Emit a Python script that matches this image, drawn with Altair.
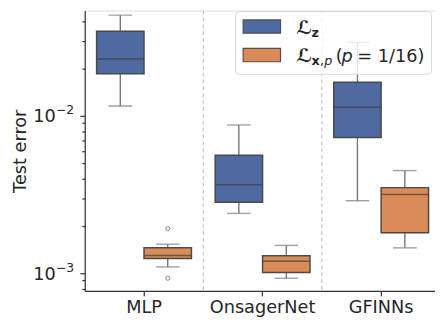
import altair as alt
import pandas as pd

categories = ["MLP", "OnsagerNet", "GFINNs"]
series = ["Lz", "Lxp"]
colors = ["#4f6aa1", "#da8b57"]

# Box statistics (per category)
lz_whislo = [0.01155, 0.00240, 0.00289]
lz_q1 = [0.0185, 0.00283, 0.00729]
lz_med = [0.0230, 0.00365, 0.01133]
lz_q3 = [0.0345, 0.00562, 0.01637]
lz_whishi = [0.0436, 0.00875, 0.0293]

lxp_whislo = [0.001097, 0.00093, 0.00145]
lxp_q1 = [0.00124, 0.00101, 0.00181]
lxp_med = [0.001296, 0.001194, 0.00316]
lxp_q3 = [0.001454, 0.00129, 0.00350]
lxp_whishi = [0.00153, 0.001503, 0.00449]

outlier_cat = ["MLP", "MLP"]
outlier_series = ["Lxp", "Lxp"]
outlier_val = [0.00192, 0.00093]

ytick_values = [0.0008, 0.0009, 0.001, 0.002, 0.003, 0.004, 0.005, 0.006,
                0.007, 0.008, 0.009, 0.01, 0.02, 0.03, 0.04, 0.05]
major_vals = [0.01, 0.001]
major_base = ["10", "10"]
major_exp = ["−2", "−3"]
y_domain = [0.000772, 0.04664]
separators = ["OnsagerNet", "GFINNs"]

rows = []
for i, c in enumerate(categories):
    rows.append(dict(cat=c, series="Lz", whislo=lz_whislo[i], q1=lz_q1[i], med=lz_med[i],
                     q3=lz_q3[i], whishi=lz_whishi[i]))
    rows.append(dict(cat=c, series="Lxp", whislo=lxp_whislo[i], q1=lxp_q1[i], med=lxp_med[i],
                     q3=lxp_q3[i], whishi=lxp_whishi[i]))
df = pd.DataFrame(rows)
df_out = pd.DataFrame(dict(cat=outlier_cat, series=outlier_series, val=outlier_val))
df_sep = pd.DataFrame(dict(cat=separators))
df_lab = pd.DataFrame(dict(v=major_vals, base=major_base, exp=major_exp))
df_one = pd.DataFrame(dict(k=[0]))

FONT = "DejaVu Sans"
TXT = "#262626"

xscale = alt.Scale(domain=categories, range=[0, 361.5], paddingInner=0, paddingOuter=0)
xaxis = alt.Axis(labelFont=FONT, labelFontSize=18, labelColor=TXT, labelAngle=0,
                 tickSize=5, tickColor="#333333", tickWidth=1.2, domainColor="#333333",
                 domainWidth=1.2, labelPadding=3, title=None, grid=False)
yscale = alt.Scale(type="log", domain=y_domain, nice=False, zero=False)
major_test = "datum.value == 0.01 || datum.value == 0.001"
yaxis = alt.Axis(values=ytick_values, labels=False,
                 tickSize={"condition": {"test": major_test, "value": 5}, "value": 3},
                 tickColor="#333333", tickWidth=1.2, domainColor="#333333", domainWidth=1.2,
                 grid=False,
                 titleFont=FONT, titleFontSize=18, titleFontWeight="normal", titleColor=TXT,
                 titlePadding=51)
xoff = alt.XOffset("series:N", sort=series,
                   scale=alt.Scale(domain=series, paddingInner=0, paddingOuter=0.25))
color = alt.Color("series:N", scale=alt.Scale(domain=series, range=colors), legend=None)


def X(**kw):
    return alt.X("cat:N", scale=xscale, axis=xaxis, sort=categories, title=None, **kw)


def Y(field):
    return alt.Y(f"{field}:Q", scale=yscale, axis=yaxis, title="Test error")


seps = alt.Chart(df_sep).mark_rule(color="#bbbbbb", strokeDash=[4, 3], strokeWidth=1).encode(
    x=X(bandPosition=0))

base = alt.Chart(df)
wlo = base.mark_rule(color="#777777", strokeWidth=1.4).encode(
    x=X(), xOffset=xoff, y=Y("whislo"), y2="q1:Q")
whi = base.mark_rule(color="#777777", strokeWidth=1.4).encode(
    x=X(), xOffset=xoff, y=Y("q3"), y2="whishi:Q")
cap_lo = base.mark_tick(orient="horizontal", size=24, thickness=1.4, color="#777777").encode(
    x=X(), xOffset=xoff, y=Y("whislo"))
cap_hi = base.mark_tick(orient="horizontal", size=24, thickness=1.4, color="#777777").encode(
    x=X(), xOffset=xoff, y=Y("whishi"))
box = base.mark_bar(stroke="#4a4a4a", strokeWidth=1.5, opacity=1).encode(
    x=X(), xOffset=xoff, y=Y("q1"), y2="q3:Q", color=color)
med = base.mark_tick(orient="horizontal", size=48, thickness=1.5, color="#404040").encode(
    x=X(), xOffset=xoff, y=Y("med"))
outl = alt.Chart(df_out).mark_point(shape="circle", filled=False, size=18, color="#555555",
                                    strokeWidth=1).encode(
    x=X(), xOffset=xoff, y=Y("val"))

# y tick labels 10^-2, 10^-3 placed through the y scale
lab_base = alt.Chart(df_lab).mark_text(font=FONT, fontSize=18, color=TXT, align="right",
                                       baseline="alphabetic", dy=6.7).encode(
    x=alt.value(-29.5), y=Y("v"), text="base:N")
lab_exp = alt.Chart(df_lab).mark_text(font=FONT, fontSize=12.5, color=TXT, align="left",
                                      baseline="alphabetic", dy=-1.6).encode(
    x=alt.value(-29.2), y=Y("v"), text="exp:N")

# Legend (drawn in plot pixel space)
one = alt.Chart(df_one)
leg_frame = one.mark_rect(fill="white", fillOpacity=0.8, stroke="#d6d6d6", strokeWidth=1,
                          cornerRadius=4).encode(
    x=alt.value(153.5), x2=alt.value(352.5), y=alt.value(1), y2=alt.value(64.7))
sw1 = one.mark_rect(fill=colors[0], stroke="#505050", strokeWidth=1.2).encode(
    x=alt.value(161), x2=alt.value(199), y=alt.value(9.5), y2=alt.value(23))
sw2 = one.mark_rect(fill=colors[1], stroke="#505050", strokeWidth=1.2).encode(
    x=alt.value(161), x2=alt.value(199), y=alt.value(38.5), y2=alt.value(52))


def txt(s, x, y, size=18, weight="normal", style="normal"):
    return one.mark_text(text=s, font=FONT, fontSize=size, fontWeight=weight, fontStyle=style,
                         color=TXT, align="left", baseline="alphabetic").encode(
        x=alt.value(x), y=alt.value(y))


legend_texts = [
    txt("ℒ", 215, 23.5, size=19, weight="bold"),
    txt("z", 230.5, 26.5, size=13, weight="bold"),
    txt("ℒ", 215, 52, size=19, weight="bold"),
    txt("x", 230.5, 55, size=13, weight="bold"),
    txt(",", 239, 55, size=13),
    txt("p", 243.5, 55, size=13, style="italic"),
    txt("(", 255, 52),
    txt("p", 261, 52, style="italic"),
    txt("= 1/16)", 277, 52),
]

chart = alt.layer(seps, wlo, whi, cap_lo, cap_hi, box, med, outl, lab_base, lab_exp,
                  leg_frame, sw1, sw2, *legend_texts).properties(
    width=356, height=285,
    autosize=alt.AutoSizeParams(type="none"),
    padding={"left": 78, "top": 0, "right": 0, "bottom": 32},
).configure_view(stroke=None).configure(background="white")

chart.save("out.html", embed_options={"renderer": "svg", "actions": False})
